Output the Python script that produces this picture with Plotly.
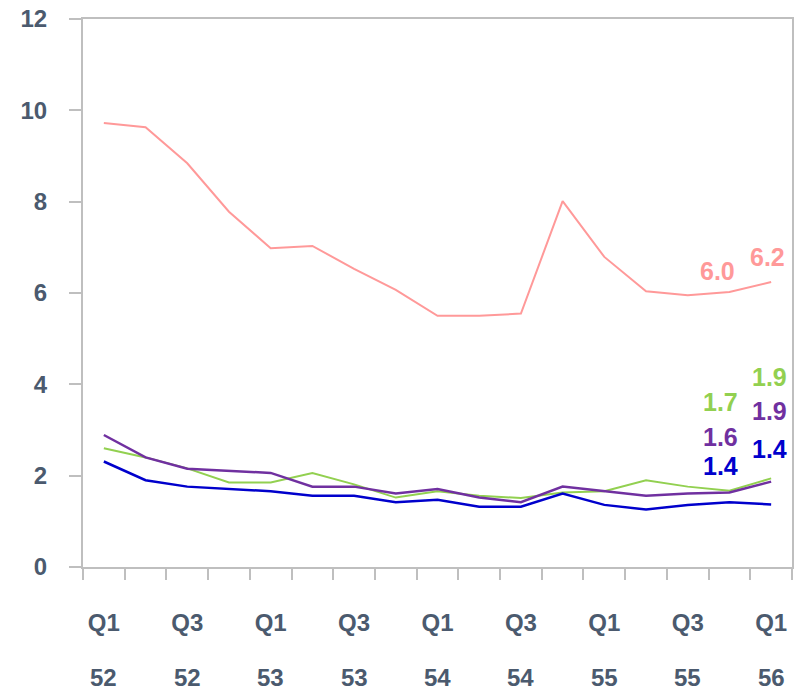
import plotly.graph_objects as go

quarters = ["Q1 52", "Q2 52", "Q3 52", "Q4 52", "Q1 53", "Q2 53", "Q3 53", "Q4 53",
            "Q1 54", "Q2 54", "Q3 54", "Q4 54", "Q1 55", "Q2 55", "Q3 55", "Q4 55", "Q1 56"]
quarter_labels = ["Q1", "", "Q3", "", "Q1", "", "Q3", "", "Q1", "", "Q3", "", "Q1", "", "Q3", "", "Q1"]
year_labels = ["52", "", "52", "", "53", "", "53", "", "54", "", "54", "", "55", "", "55", "", "56"]

pink = [9.72, 9.63, 8.84, 7.78, 6.98, 7.03, 6.53, 6.07, 5.50, 5.50, 5.55, 8.01,
        6.79, 6.04, 5.95, 6.02, 6.24]
green = [2.60, 2.40, 2.16, 1.85, 1.85, 2.06, 1.81, 1.52, 1.66, 1.56, 1.51, 1.63,
         1.66, 1.90, 1.76, 1.67, 1.94]
purple = [2.89, 2.40, 2.15, 2.10, 2.06, 1.76, 1.76, 1.61, 1.71, 1.52, 1.42, 1.76,
          1.66, 1.56, 1.61, 1.63, 1.87]
blue = [2.31, 1.90, 1.76, 1.71, 1.66, 1.56, 1.56, 1.42, 1.47, 1.32, 1.32, 1.61,
        1.36, 1.26, 1.36, 1.42, 1.37]

TEXT = "#4B5A6E"
AXIS = "#BFBFBF"
FONT = "Liberation Sans, Arial, sans-serif"

series = [
    (pink, "#FF9999", 2, [(-12, 21), (-4, 25)]),
    (green, "#92D050", 2, [(-9, 89), (-2, 101)]),
    (purple, "#7030A0", 2.5, [(-9, 56), (-2, 71)]),
    (blue, "#0000CC", 2.5, [(-9, 36), (-2, 55)]),
]

fig = go.Figure()
annotations = []
for values, color, width, shifts in series:
    fig.add_trace(go.Scatter(x=quarters, y=values, mode="lines",
                             line=dict(color=color, width=width), hoverinfo="skip"))
    # labels on the last two quarters
    for i, (dx, dy) in zip([-2, -1], shifts):
        annotations.append(dict(x=quarters[i], y=values[i], text=f"{values[i]:.1f}",
                                showarrow=False, xshift=dx, yshift=dy,
                                font=dict(family=FONT, size=25, color=color, weight="bold")))

for q, yr in zip(quarters, year_labels):
    if yr:
        annotations.append(dict(x=q, y=0, yref="paper", text=yr, showarrow=False,
                                yshift=-126, font=dict(family=FONT, size=24, color=TEXT, weight="bold")))

fig.update_layout(
    width=802, height=691,
    margin=dict(l=83, r=10, t=19, b=124),
    plot_bgcolor="white", paper_bgcolor="white",
    showlegend=False,
    annotations=annotations,
    font=dict(family=FONT, size=24, color=TEXT, weight="bold"),
)
fig.update_xaxes(type="category", tickvals=quarters, ticktext=quarter_labels,
                 range=[-0.5, len(quarters) - 0.5], tickangle=0,
                 tickson="boundaries", ticks="outside", ticklen=11, tickcolor=AXIS, tickwidth=2,
                 showline=True, linecolor=AXIS, linewidth=2, mirror=True,
                 showgrid=False, ticklabelstandoff=33, automargin=False)
fig.update_yaxes(range=[0, 12], dtick=2, ticks="outside", ticklen=12, tickcolor=AXIS, tickwidth=2,
                 showline=True, linecolor=AXIS, linewidth=2, mirror=True,
                 showgrid=False, zeroline=False, ticklabelstandoff=17, automargin=False)

fig.write_html("out.html", config={"displayModeBar": False},
               post_script="document.body.style.margin = '0';")
